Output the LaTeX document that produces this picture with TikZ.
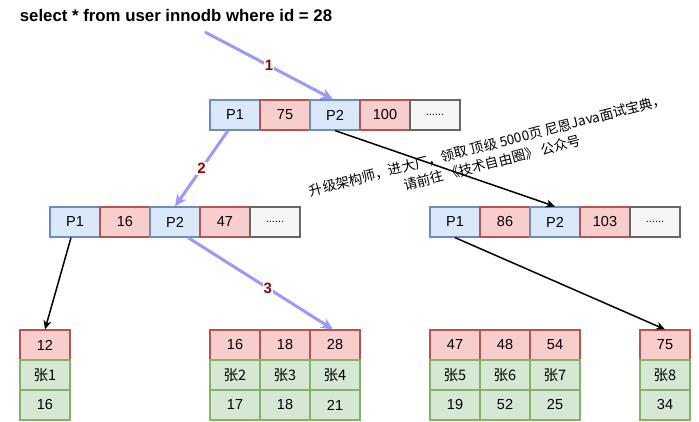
\documentclass[tikz,border=0pt]{standalone}
\usepackage{fontspec}
\setmainfont{Liberation Sans}
\newfontfamily\cjk{Noto Sans CJK SC}
\usetikzlibrary{arrows.meta}

\definecolor{ptrfill}{HTML}{DAE8FC}
\definecolor{ptrline}{HTML}{6C8EBF}
\definecolor{keyfill}{HTML}{F8CECC}
\definecolor{keyline}{HTML}{B85450}
\definecolor{restfill}{HTML}{F5F5F5}
\definecolor{restline}{HTML}{666666}
\definecolor{rowfill}{HTML}{D5E8D4}
\definecolor{rowline}{HTML}{82B366}
\definecolor{path}{HTML}{9999FF}
\definecolor{stepnum}{HTML}{990000}

\begin{document}
\begin{tikzpicture}[x=1pt,y=-1pt]
  \tikzstyle{cell}=[minimum width=50pt,minimum height=30pt,inner sep=0pt,line width=1.2pt,font=\fontsize{14.5}{17}\selectfont]
  \tikzstyle{ptr}=[cell,draw=ptrline,fill=ptrfill]
  \tikzstyle{key}=[cell,draw=keyline,fill=keyfill]
  \tikzstyle{rest}=[cell,draw=restline,fill=restfill,font=\fontsize{11}{13}\selectfont]
  \tikzstyle{row}=[cell,draw=rowline,fill=rowfill]
  \tikzstyle{search}=[draw=path,line width=3pt,-{Stealth[length=12pt,width=11pt]}]
  \tikzstyle{child}=[draw=black,line width=1.5pt,-{Stealth[length=9pt,width=8pt]}]
  \tikzstyle{stepno}=[fill=white,inner sep=1pt,text=stepnum,font=\fontsize{15}{17}\selectfont\bfseries]
  \useasboundingbox (0,0) rectangle (699,421);

  \node[font=\fontsize{16.8}{19}\selectfont\bfseries] (query) at (176,15) {select * from user innodb where id = 28};
  \coordinate (qstart) at (205,32);

  % root page
  \node[ptr]  (R1) at (235,115) {P1};
  \node[key]  (R2) at (285,115) {75};
  \node[ptr]  (R3) at (335,115) {P2};
  \node[key]  (R4) at (385,115) {100};
  \node[rest] (R5) at (435,115) {......};

  % left page
  \node[ptr]  (A1) at (75,222)  {P1};
  \node[key]  (A2) at (125,222) {16};
  \node[ptr]  (A3) at (175,222) {P2};
  \node[key]  (A4) at (225,222) {47};
  \node[rest] (A5) at (275,222) {......};

  % right page
  \node[ptr]  (B1) at (455,222) {P1};
  \node[key]  (B2) at (505,222) {86};
  \node[ptr]  (B3) at (555,222) {P2};
  \node[key]  (B4) at (605,222) {103};
  \node[rest] (B5) at (655,222) {......};

  % leaf pages
  \node[key] (k1) at (45,345)  {12};
  \node[row] (n1) at (45,375)  {\cjk 张1};
  \node[row] (v1) at (45,405)  {16};

  \node[key] (k2) at (235,345) {16};
  \node[row] (n2) at (235,375) {\cjk 张2};
  \node[row] (v2) at (235,405) {17};
  \node[key] (k3) at (285,345) {18};
  \node[row] (n3) at (285,375) {\cjk 张3};
  \node[row] (v3) at (285,405) {18};
  \node[key] (k4) at (335,345) {28};
  \node[row] (n4) at (335,375) {\cjk 张4};
  \node[row] (v4) at (335,405) {21};

  \node[key] (k5) at (455,345) {47};
  \node[row] (n5) at (455,375) {\cjk 张5};
  \node[row] (v5) at (455,405) {19};
  \node[key] (k6) at (505,345) {48};
  \node[row] (n6) at (505,375) {\cjk 张6};
  \node[row] (v6) at (505,405) {52};
  \node[key] (k7) at (555,345) {54};
  \node[row] (n7) at (555,375) {\cjk 张7};
  \node[row] (v7) at (555,405) {25};

  \node[key] (k8) at (665,345) {75};
  \node[row] (n8) at (665,375) {\cjk 张8};
  \node[row] (v8) at (665,405) {34};

  \draw[child] (R3.south) -- (B3.north);
  \draw[child] ([xshift=-4pt]A1.south) -- (k1.north);
  \draw[child] (B1.south) -- (k8.north);

  \node[rotate=14.5,align=center,font=\cjk\fontsize{13.6}{18}\selectfont] (ad) at (490,154)
    {升级架构师，进大厂，领取 顶级 5000页 尼恩Java面试宝典，\\请前往 《技术自由圈》 公众号};

  \draw[search] (qstart) -- node[stepno] {1} ([xshift=-2pt]R3.north);
  \draw[search] ([xshift=-7pt]R1.south) -- node[stepno] {2} (A3.north);
  \draw[search] ([xshift=13pt]A3.south) -- node[stepno,pos=0.55] {3} ([xshift=-2pt]k4.north);
\end{tikzpicture}
\end{document}
